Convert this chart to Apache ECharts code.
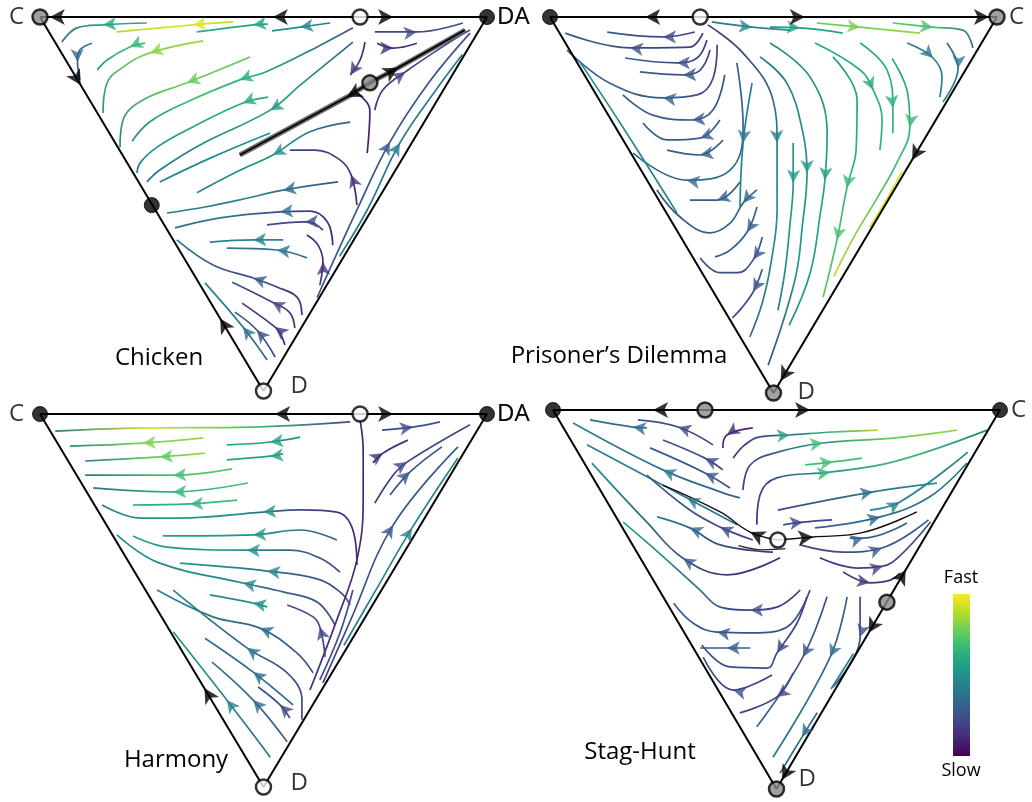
<!DOCTYPE html>
<html>
<head>
<meta charset="utf-8">
<script src="https://cdn.jsdelivr.net/npm/echarts@6/dist/echarts.min.js"></script>
<style>
  html, body { margin: 0; padding: 0; background: #ffffff; }
  #chart { width: 1032px; height: 802px; }
</style>
</head>
<body>
<div id="chart"></div>
<script>
// Coordinates inside each simplex: x runs 0..100 along the top edge (left vertex to right vertex),
// y runs 0 at the top edge to 100 at the bottom vertex.
// Streamline entry: [points, arrow index (or list, -1 = none), speeds along the line (0 slow .. 1 fast)]

const panelTitles = ['Chicken', 'Prisoner\u2019s Dilemma', 'Harmony', 'Stag-Hunt'];
const chickenVertices = ['C', 'DA', 'D'];
const pdVertices = ['DA', 'C', 'D'];
const harmonyVertices = ['C', 'DA', 'D'];
const stagVertices = ['DA', 'C', 'D'];

const chickenLines = [
  [[[23.9,1.6],[14.1,2.1],[8.3,2.9],[4.9,6.7]], 1, [0.62,0.6,0.35]],
  [[[43.2,1.3],[34.2,2.1],[17.2,4]], 1, [0.9,0.95,0.88]],
  [[[64.9,1.6],[58.2,2.7],[51.9,3.7]], 1, [0.4,0.5]],
  [[[51,1.9],[47.7,2.1],[35.1,4]], 1, [0.55,0.62]],
  [[[11.6,7],[8.7,9.2],[8.4,12],[8.9,16.8]], 2, [0.4,0.3]],
  [[[23.5,7],[20.1,8],[15,11.5],[12.8,14.2]], 1, [0.72,0.55]],
  [[[36.5,6.4],[24.6,9.6],[18.6,13.4],[15,17.6],[14.1,25.7]], 1, [0.85,0.8,0.5]],
  [[[47,10.7],[32.9,17.6],[23,22.2],[18.6,27.5],[17.9,34.8]], 1, [0.75,0.78,0.45]],
  [[[70,2.9],[62,8],[50.5,14.7],[44.7,16.8],[32.9,22.7],[24.6,28],[20.6,33.2]], 3, [0.25,0.55,0.7,0.45]],
  [[[51,21.4],[45.4,23],[34.2,29.4],[26.2,34.8],[22.4,39],[21.7,41.7]], 1, [0.62,0.6,0.4]],
  [[[70,6.7],[58.2,18.2],[51.5,24.9],[35.8,34.2],[26.8,40.9],[23.9,44.1]], 2, [0.3,0.55,0.5,0.35]],
  [[[51.5,31],[38.7,37.4],[26.8,44.1]], -1, [0.5,0.45]],
  [[[66.7,44.1],[54.4,46.3],[44.7,48.9],[36.9,50.8],[28.4,52.4]], 1, [0.25,0.45,0.4]],
  [[[69.4,28.1],[60.4,30.7],[52.1,36.9],[44.7,41],[35.1,47]], 2, [0.3,0.5,0.45]],
  [[[70.9,50.3],[69.6,42.2],[67.1,38.2],[61.5,35.6],[55.9,35.6]], 1, [0.12,0.2]],
  [[[65.5,61],[64.3,54.8],[60.4,51.9],[53.7,52.1],[40.3,53.7],[30.2,56.4]], 3, [0.12,0.2,0.4,0.35]],
  [[[62.6,71.7],[63.3,65.5],[62.2,61],[59.7,58.3]], 1, [0.15,0.12]],
  [[[63.3,57],[61.1,55.1],[59.3,54.8],[50.8,55.6]], 2, [0.15,0.25]],
  [[[54.4,59.6],[47.7,59.6],[38,60.2]], 1, [0.45,0.45]],
  [[[59.7,64.4],[53,62.3],[41.8,61.8]], 1, [0.35,0.4]],
  [[[58.6,79.7],[57.5,74.9],[53,72.2],[47.7,69.8],[38.7,66.3],[30.6,59.6]], 3, [0.12,0.25,0.4]],
  [[[57,83.2],[55.9,79.1],[51.9,76.2],[43,70.9]], 2, [0.15,0.25]],
  [[[54.8,87.7],[53.7,84.5],[52.6,82.9],[45.2,76.5]], 2, [0.1,0.18]],
  [[[52.6,90.9],[48.5,83.7],[43.6,78.9]], 1, [0.2,0.3]],
  [[[50.8,91.7],[45.4,82.9],[36.9,71.1]], 1, [0.3,0.45]],
  [[[62,75],[70.9,51.6],[78.3,33.4],[87,17.5],[96.2,4.3]], 2, [0.28,0.25]],
  [[[67,64],[73.2,51.6],[80.5,33.7],[89.5,18],[94.5,10]], 2, [0.42,0.4]],
  [[[74.9,4],[84.3,4],[94.6,1.6]], 1, [0.2,0.25]],
  [[[75.4,7],[79,8.3],[84.3,7]], 1, [0.12,0.15]],
  [[[72.7,6.7],[71.6,11.5],[69.4,15.5]], 2, [0.1,0.15]],
  [[[73.2,36.4],[73.8,25.1],[72,21.4],[69.4,20.1]], -1, [0.1,0.08]],
  [[[74.9,24.9],[76.7,19.5],[81.7,14.7],[91.7,6.7],[96.2,3.5]], 2, [0.15,0.25]]
];

const pdLines = [
  [[[32.4,4],[25.3,5.3],[12.8,4]], 1, [0.2,0.28]],
  [[[34.2,4.3],[31.3,8],[17.9,8.2],[3.4,4.3]], 2, [0.15,0.3]],
  [[[35.1,6.1],[32.9,10.9],[28.4,12.2],[16.8,10.9]], 2, [0.18,0.3]],
  [[[35.8,8.8],[33.6,14.1],[29.8,15.4],[20.1,14.6]], 2, [0.2,0.3]],
  [[[37.4,7.4],[36.5,16.2],[32.9,20.7],[25.3,21.5],[13.4,17.6],[3.8,8.8]], 3, [0.2,0.3,0.32]],
  [[[39.1,15.4],[36.5,24.7],[31.8,27.4],[23,26.1],[16.3,20.7]], 2, [0.25,0.3]],
  [[[38,27.4],[33.6,32.2],[26.2,32.7],[20.8,28.2]], 1, [0.3,0.3]],
  [[[38.7,32.7],[33.6,36.7],[26.2,35.4]], 1, [0.3,0.3]],
  [[[41.8,12.2],[43.2,29.3],[40.3,40.7],[30.6,43.4],[18.6,36.2]], 3, [0.3,0.35,0.35]],
  [[[45.2,17.6],[43.2,33.5],[42.5,50.5]], 1, [0.4,0.45]],
  [[[42.5,43.9],[37.4,48.7],[31.3,48.7]], 1, [0.3,0.3]],
  [[[46.3,46],[43.2,49.5],[40.3,54.8],[35.8,57.4],[29.1,53.2],[23.9,46]], 1, [0.35,0.3,0.25]],
  [[[35.3,2.1],[43.2,9.6],[49.9,22.1],[50.8,33.5],[50.8,51.3],[49.5,65],[47.5,76],[44.7,85.1]], 3, [0.15,0.4,0.5,0.35]],
  [[[36.2,1.3],[45.2,2.7],[53.7,3.5]], 1, [0.4,0.5]],
  [[[6.7,12],[15.7,28.2],[28.4,52.1]], -1, [0.5,0.45]],
  [[[46.3,50.5],[44.1,57.2],[40.3,62],[36.9,63.8]], 1, [0.3,0.3]],
  [[[47.5,58.5],[45.5,64.5],[42,68],[38,68],[33.6,64.1]], 1, [0.28,0.22]],
  [[[47.5,67],[45.5,73],[42.8,77.5],[40.8,80]], 1, [0.28,0.2]],
  [[[54.4,33.5],[54.4,44.1],[53.7,55],[52.6,67.3],[51,78]], 1, [0.5,0.55,0.4]],
  [[[47,10.6],[53,17.6],[56.6,30.9],[57.5,41.5],[56.5,55],[54.8,69.9],[48.8,92.6]], 3, [0.4,0.5,0.55,0.25]],
  [[[49.2,6.9],[58.2,16],[62,30.9],[61.5,43.4],[60.5,52],[58.2,68.1],[53.5,82]], 3, [0.45,0.55,0.6,0.5]],
  [[[63.3,10.6],[68.7,22.1],[68.5,35],[66.4,45.5],[64.2,59.3],[61.1,74.5]], [3,4], [0.55,0.65,0.75]],
  [[[78.8,41],[75.3,48.5],[71.5,56]], -1, [0.95,0.95]],
  [[[49.2,2.7],[55.9,2.9],[65.5,4.3]], 1, [0.5,0.6]],
  [[[59.7,1.6],[69.4,2.7],[82.8,4.3]], 1, [0.75,0.85]],
  [[[76.7,1.6],[85.7,2.7],[92.4,3.5],[94.6,8.2]], 1, [0.75,0.7,0.3]],
  [[[79.9,6.9],[85.7,10.9],[87.7,16],[87.2,21.3]], 1, [0.4,0.45]],
  [[[88.8,6.9],[91.3,13.6],[87.9,22.6]], 1, [0.35,0.45]],
  [[[69.4,6.9],[75.4,14.1],[76.7,24.2],[76.7,30.9]], 2, [0.6,0.65]],
  [[[59.3,6.9],[69.4,14.1],[72.3,19.4],[74.3,27.4],[73.8,35.4]], 2, [0.6,0.65]],
  [[[76.5,11],[80,20.2],[80.5,29.3],[77.5,39],[73,48.5],[68,58.5],[63.5,69]], 2, [0.6,0.7,0.9]]
];

const harmonyLines = [
  [[[69.4,2.1],[47,3.5],[20.8,3.8],[3.4,4.6]], -1, [0.2,0.7,0.95,0.4]],
  [[[36.5,6.4],[23,7.8],[6.7,8.6]], 1, [0.85,0.8,0.45]],
  [[[58.2,6.2],[51.5,7.5],[41.8,8.3]], 1, [0.5,0.6]],
  [[[36.9,10.5],[26.8,11.5],[10.1,12.6]], 1, [0.85,0.75,0.4]],
  [[[54.4,10.7],[51.5,11.3],[41.8,12.3]], 1, [0.55,0.6]],
  [[[43,14.7],[29.8,16.4],[10.1,16.4]], 1, [0.75,0.7,0.4]],
  [[[46.5,18.5],[29.8,20.9],[11.9,19.8]], 1, [0.7,0.65,0.35]],
  [[[44.1,23.1],[33.6,24.1],[20.8,24.4]], 1, [0.7,0.6]],
  [[[70.9,40.5],[70,31.1],[66.4,26.3],[58.2,25.7],[49.9,26.3],[31.3,27.9],[22.4,27.9],[13.9,24.4]], 4, [0.1,0.2,0.5,0.55,0.4]],
  [[[66.4,33.8],[58.2,31.1],[47.7,32.4],[27.5,32.7]], 2, [0.3,0.5,0.58]],
  [[[67.1,42.4],[62.6,38.6],[55.9,36.5],[46.3,36.5],[28.4,35.7],[20.8,32.7]], 3, [0.2,0.5,0.55]],
  [[[69.4,51.2],[67.1,47.7],[62,44.2],[50.8,42.1],[31.3,40]], 3, [0.2,0.55]],
  [[[66,56.6],[62,50.4],[54.4,47.7],[45.4,45.3],[26.2,39.7],[17.2,32.4]], 3, [0.2,0.45,0.5]],
  [[[50.8,51.7],[47.7,50.7],[38,48.5]], 1, [0.5,0.5]],
  [[[61.1,69.4],[57.5,64.1],[49.2,57.4],[38.7,54.4],[26.2,47.2]], 2, [0.25,0.45]],
  [[[58.6,82],[58.6,76.7],[55.3,69.4],[46.3,62.7],[29.8,47.2]], 3, [0.2,0.45]],
  [[[56.6,78],[47.7,69.2],[36.9,60.1]], 1, [0.3,0.4]],
  [[[55.3,87.9],[47.7,76.7],[38.5,66.5]], 1, [0.3,0.4]],
  [[[51.5,92],[41.8,76.7],[29.8,58.4]], 1, [0.35,0.55]],
  [[[55.9,81.5],[53.7,78],[48.8,73.2]], 1, [0.2,0.25]],
  [[[63.8,65.1],[62.6,57.1],[61.1,54.4],[55.3,51.2]], 1, [0.2,0.25]],
  [[[62.6,71.3],[67.1,58.7],[70,47.2]], -1, [0.25,0.25]],
  [[[60.4,74],[66.4,55.2],[70.9,39.1],[72.3,23.1],[72.3,9.7],[71.6,1.6]], -1, [0.15,0.1]],
  [[[76.5,4.3],[83.4,3.5],[89.5,2.1]], 1, [0.2,0.25]],
  [[[74.5,13.1],[76.7,10.5],[82.3,7]], 1, [0.12,0.15]],
  [[[74.9,23.9],[79,16.4],[82.1,12.9],[96.2,2.9]], 2, [0.15,0.25]],
  [[[78.3,21.7],[82.8,15.5],[89.9,8.8]], 1, [0.25,0.28]],
  [[[63.3,72.1],[69.4,55.5],[79,29.8],[93.5,8.8]], 2, [0.2,0.3]],
  [[[68,62],[74.9,47.7],[83.2,30.6],[93.5,11.8]], 2, [0.45,0.45]]
];

const stagLines = [
  [[[44.7,4.7],[38.9,6.6],[38,10]], 1, [0.12,0.12]],
  [[[35.8,9.2],[28,4.5],[19,2.6]], 1, [0.2,0.25]],
  [[[21,4.7],[17.9,4.5],[8.3,2.6]], 1, [0.35,0.35]],
  [[[41.8,23.2],[37.4,21.6],[24.6,15.8],[4.5,3.4]], 2, [0.3,0.45]],
  [[[38,15.8],[34,12.7],[24.6,7.9]], 1, [0.22,0.25]],
  [[[39.6,20.6],[34,16.6],[21.7,10]], 1, [0.25,0.3]],
  [[[41.2,30.3],[30,23.2],[7.6,9.2]], 1, [0.35,0.45]],
  [[[44.7,34.3],[37.4,30.9],[30.6,26.4],[21,17.2]], 1, [0.2,0.3]],
  [[[49.2,37.5],[37.4,35.6],[30.6,31.1],[23.3,28.2]], 2, [0.1,0.45]],
  [[[50.8,39],[38.9,43.5],[29.1,39.1],[21,29.6],[8.7,14]], 2, [0.1,0.5]],
  [[[55.3,47.5],[50.1,52],[44.1,52.8],[37.4,52],[32.9,47.5],[24,38],[15.7,29.6]], 2, [0.15,0.25,0.45,0.6]],
  [[[57.5,47.5],[52.3,57.3],[44.7,58.8],[36.7,58.6],[31.3,56.2],[27,51]], 3, [0.2,0.3]],
  [[[44.1,62.8],[38.9,62.8],[32.9,62.8]], 1, [0.3,0.3]],
  [[[56.8,49.3],[54.6,56.2],[50.1,64.1],[47.9,68.1],[39.6,67.8],[33.3,62]], 2, [0.2,0.25]],
  [[[49,69.9],[40.3,73.9],[33.6,65.2]], 1, [0.2,0.25]],
  [[[53.7,69.4],[50.1,75.7],[41.8,79.9]], 1, [0.2,0.2]],
  [[[61.3,49.3],[55.9,65.2],[45.6,83.6]], 1, [0.25,0.3]],
  [[[65.8,49.3],[62,65.2],[49.2,91.6]], 1, [0.3,0.4]],
  [[[68.7,49.3],[68.7,59.9],[62.6,73.1]], 1, [0.2,0.3]],
  [[[59.1,79.9],[55.7,86.3],[50.8,95.8]], 1, [0.35,0.35]],
  [[[67.2,64.3],[62.2,73.6]], -1, [0.45,0.45]],
  [[[40.3,12.7],[42.9,9.2],[46.3,7.1],[53,6.6],[62.6,5.8],[72.7,5.3]], 3, [0.12,0.3,0.65,0.9]],
  [[[42.5,21.1],[44.1,14.5],[49.7,11.3],[60.4,8.7],[76.1,7.4],[90.4,5.3]], 3, [0.15,0.45,0.75,0.85]],
  [[[56.4,14.5],[62.6,13.7],[69.1,12.7]], 1, [0.7,0.7]],
  [[[45.6,30.3],[46.3,22.4],[50.1,17.9],[62,16.4],[76.1,13.7],[97.1,5.3]], 3, [0.12,0.5,0.7,0.45]],
  [[[50.3,26.4],[71.6,21.6],[85.9,19.3]], 1, [0.2,0.5]],
  [[[70.9,26.4],[77.6,24.3],[92.8,11.1]], 1, [0.45,0.45]],
  [[[51.5,30.3],[55.9,29.6],[62.4,29]], 1, [0.2,0.2]],
  [[[58.6,31.1],[73.2,28.2],[84.3,22.9],[92.6,14]], 1, [0.3,0.4]],
  [[[66.4,33.8],[69.4,33.8],[79.2,29.8]], 1, [0.3,0.3]],
  [[[55.3,35.6],[64.9,37.5],[73.6,36.4],[84,29]], 2, [0.2,0.3]],
  [[[59.7,39],[68,41.7],[73.8,41.2],[77.6,38.5],[84.5,29.5]], 2, [0.15,0.25]],
  [[[64.9,42.7],[70.9,45.6],[75.4,44.9],[77.6,43]], 1, [0.15,0.15]]
];

// Black invariant curves through interior rest points: [points, arrow index]
const chickenSeparatrix = [
  [[[73.8,17.6],[68.7,21.4],[44.7,36.9]], 1],
  [[[73.8,17.6],[80.1,13.6],[95.1,3.5]], 1]
];
const stagSeparatrix = [
  [[[50.3,34.3],[44.1,32.2],[37.4,26.9],[24.6,19.8]], 1],
  [[[50.3,34.3],[58.2,33.5],[68.7,32.5],[81.4,26.9]], 1]
];
const stagLowerCurve = [[41.5,35.8],[47,36.9],[52,36.6]];

// Edge flow arrows: [x, y, heading x, heading y]
const chickenEdgeArrows = [[2.2,0,0,0],[52.1,0,0,0],[79,0,100,0],[9.1,18.2,25,50.3],[40.3,80.6,25,50.3]];
const pdEdgeArrows = [[21.3,0,0,0],[57,0,100,0],[98.2,0,100,0],[81,38,50,100],[51.6,96.8,50,100]];
const harmonyEdgeArrows = [[52.6,0,0,0],[79,0,100,0],[36.8,73.5,0,0]];
const stagEdgeArrows = [[22.4,0,0,0],[57.5,0,100,0],[78.9,42.2,100,0],[70.6,58.8,50,100],[51.2,97.6,50,100]];

// Rest points: [x, y, type]
const chickenPoints = [[0,0,'saddle'],[71.6,0,'source'],[100,0,'sink'],[25,50.3,'sink'],[50,100,'source'],[73.8,17.6,'saddle']];
const pdPoints = [[0,0,'sink'],[33.6,0,'source'],[100,0,'saddle'],[50,100,'saddle']];
const harmonyPoints = [[0,0,'sink'],[71.6,0,'source'],[100,0,'sink'],[50,100,'source']];
const stagPoints = [[0,0,'sink'],[34,0,'saddle'],[100,0,'sink'],[50.3,34.3,'source'],[74.7,50.7,'saddle'],[50,100,'saddle']];

const vertexCoords = [[0,0],[100,0],[50,100]];

// ---------- drawing ----------
const FONT = '"Open Sans", "Noto Sans", sans-serif';
const VIRIDIS = ['#440154','#482475','#414487','#355f8d','#2a788e','#21918c','#22a884','#44bf70','#7ad151','#bddf26','#fde725'];

function hexToRgb(h) { return [parseInt(h.slice(1,3),16), parseInt(h.slice(3,5),16), parseInt(h.slice(5,7),16)]; }
function viridis(t) {
  t = Math.max(0, Math.min(1, t));
  const p = t * 10, i = Math.min(9, Math.floor(p)), f = p - i;
  const a = hexToRgb(VIRIDIS[i]), b = hexToRgb(VIRIDIS[i + 1]);
  const c = a.map((v, k) => Math.round(v + (b[k] - v) * f));
  return 'rgb(' + c.join(',') + ')';
}
function speedAt(speeds, f) {
  if (speeds.length === 1) return speeds[0];
  const p = f * (speeds.length - 1), i = Math.min(speeds.length - 2, Math.floor(p));
  return speeds[i] + (speeds[i + 1] - speeds[i]) * (p - i);
}
function strokeFor(pts, speeds) {
  if (speeds.every(s => s === speeds[0])) return viridis(speeds[0]);
  const xs = pts.map(p => p[0]), ys = pts.map(p => p[1]);
  const minx = Math.min(...xs), maxx = Math.max(...xs), miny = Math.min(...ys), maxy = Math.max(...ys);
  const fx = v => maxx > minx ? (v - minx) / (maxx - minx) : 0.5;
  const fy = v => maxy > miny ? (v - miny) / (maxy - miny) : 0.5;
  const a = pts[0], b = pts[pts.length - 1];
  return new echarts.graphic.LinearGradient(fx(a[0]), fy(a[1]), fx(b[0]), fy(b[1]),
    speeds.map((s, j) => ({ offset: j / (speeds.length - 1), color: viridis(s) })));
}

// The shared "DA" corner between neighbouring simplices carries one label:
// the right-hand panel places its copy exactly over the left-hand panel's one.
const panels = [
  { lines: chickenLines, edge: chickenEdgeArrows, points: chickenPoints, vertices: chickenVertices, sep: chickenSeparatrix, sepStyle: 'double',
    box: { left: 40, top: 17, width: 447, height: 374 }, titleAt: [159, 358],
    labelCfg: [{ position: 'left', distance: 16 }, { position: 'right', distance: 10 }, { position: 'right', distance: 27, offset: [0, -5] }] },
  { lines: pdLines, edge: pdEdgeArrows, points: pdPoints, vertices: pdVertices, sep: [], sepStyle: 'thin',
    box: { left: 550, top: 17, width: 447, height: 376 }, titleAt: [619, 356],
    labelCfg: [{ position: 'right', distance: 10, offset: [-63, 0] }, { position: 'right', distance: 12 }, { position: 'right', distance: 24, offset: [0, -1] }] },
  { lines: harmonyLines, edge: harmonyEdgeArrows, points: harmonyPoints, vertices: harmonyVertices, sep: [], sepStyle: 'thin',
    box: { left: 40, top: 414, width: 447, height: 373 }, titleAt: [176, 760],
    labelCfg: [{ position: 'left', distance: 16 }, { position: 'right', distance: 10 }, { position: 'right', distance: 27, offset: [0, -4] }] },
  { lines: stagLines, edge: stagEdgeArrows, points: stagPoints, vertices: stagVertices, sep: stagSeparatrix, sepStyle: 'thin',
    box: { left: 553, top: 410, width: 447, height: 379 }, titleAt: [640, 752],
    labelCfg: [{ position: 'right', distance: 10, offset: [-66, 4] }, { position: 'right', distance: 11 }, { position: 'right', distance: 22, offset: [0, -10] }] }
];

const grids = [], xAxes = [], yAxes = [], series = [], graphics = [];

panels.forEach((p, i) => {
  grids.push(Object.assign({ containLabel: false }, p.box));
  xAxes.push({ type: 'value', gridIndex: i, min: 0, max: 100, show: false });
  yAxes.push({ type: 'value', gridIndex: i, min: 0, max: 100, inverse: true, show: false });
  const sx = p.box.width / 100, sy = p.box.height / 100;
  const base = { xAxisIndex: i, yAxisIndex: i, silent: true, animation: false, clip: false };
  const rotFor = (from, to) => {
    const dx = (to[0] - from[0]) * sx, dy = (to[1] - from[1]) * sy;
    return Math.atan2(-dy, dx) * 180 / Math.PI - 90;
  };

  // streamlines
  const arrowData = [];
  p.lines.forEach(([pts, arrows, speeds]) => {
    series.push(Object.assign({}, base, {
      type: 'line', data: pts, smooth: 0.4, symbol: 'none', z: 2,
      lineStyle: { width: 1.7, color: strokeFor(pts, speeds) }
    }));
    [].concat(arrows).forEach(k => {
      if (k < 0) return;
      const prev = pts[Math.max(0, k - 1)], next = pts[Math.min(pts.length - 1, k + 1)];
      arrowData.push({ value: pts[k], symbolRotate: rotFor(prev, next),
        itemStyle: { color: viridis(speedAt(speeds, k / (pts.length - 1))) } });
    });
  });
  series.push(Object.assign({}, base, { type: 'scatter', data: arrowData, symbol: 'arrow', symbolSize: [10, 13], z: 4 }));

  // invariant curves
  const sepArrows = [];
  p.sep.forEach(([pts, k]) => {
    if (p.sepStyle === 'double') {
      series.push(Object.assign({}, base, { type: 'line', data: pts, symbol: 'none', z: 3, lineStyle: { width: 5, color: '#6e6e6e' } }));
      series.push(Object.assign({}, base, { type: 'line', data: pts, symbol: 'none', z: 3, lineStyle: { width: 1.8, color: '#000' } }));
    } else {
      series.push(Object.assign({}, base, { type: 'line', data: pts, smooth: 0.4, symbol: 'none', z: 3, lineStyle: { width: 1.4, color: '#111' } }));
    }
    sepArrows.push({ value: pts[k], symbolRotate: rotFor(pts[k - 1], pts[k + 1]) });
  });
  if (i === 3) {
    series.push(Object.assign({}, base, { type: 'line', data: stagLowerCurve, smooth: 0.4, symbol: 'none', z: 3, lineStyle: { width: 1.2, color: '#222' } }));
  }

  // simplex outline
  series.push(Object.assign({}, base, {
    type: 'line', data: [[0,0],[100,0],[50,100],[0,0]], symbol: 'none', z: 3,
    lineStyle: { width: 2, color: '#000' }
  }));

  // edge arrows
  const edgeData = p.edge.map(([x, y, tx, ty]) => ({ value: [x, y], symbolRotate: rotFor([x, y], [tx, ty]) }));
  series.push(Object.assign({}, base, {
    type: 'scatter', data: edgeData.concat(sepArrows), symbol: 'arrow', symbolSize: [12, 15], z: 5,
    itemStyle: { color: '#000' }
  }));

  // rest points
  const styles = {
    sink: { color: '#000', borderColor: '#000', borderWidth: 1 },
    source: { color: '#fff', borderColor: '#000', borderWidth: 2.5 },
    saddle: { color: '#8a8a8a', borderColor: '#000', borderWidth: 2.5 }
  };
  series.push(Object.assign({}, base, {
    type: 'scatter', z: 6, symbol: 'circle', symbolSize: 15,
    data: p.points.map(([x, y, t]) => ({ value: [x, y], itemStyle: styles[t] }))
  }));

  // vertex names
  series.push(Object.assign({}, base, {
    type: 'scatter', z: 7, symbolSize: 0,
    data: vertexCoords.map((c, j) => ({
      value: c,
      label: Object.assign({ show: true, formatter: p.vertices[j], color: '#000', fontSize: 24, fontFamily: FONT }, p.labelCfg[j])
    }))
  }));

  graphics.push({
    type: 'text', x: p.titleAt[0], y: p.titleAt[1], silent: true,
    style: { text: panelTitles[i], fill: '#000', fontSize: 24, fontFamily: FONT, align: 'center', verticalAlign: 'middle' }
  });
});

// speed colour bar
const barStops = [];
for (let j = 0; j <= 10; j++) barStops.push({ offset: j / 10, color: viridis(1 - j / 10) });
graphics.push({ type: 'rect', silent: true, shape: { x: 953, y: 594, width: 17, height: 162 },
  style: { fill: new echarts.graphic.LinearGradient(0, 0, 0, 1, barStops) } });
graphics.push({ type: 'text', x: 961, y: 578, silent: true,
  style: { text: 'Fast', fill: '#000', fontSize: 18, fontFamily: FONT, align: 'center', verticalAlign: 'middle' } });
graphics.push({ type: 'text', x: 961, y: 771, silent: true,
  style: { text: 'Slow', fill: '#000', fontSize: 18, fontFamily: FONT, align: 'center', verticalAlign: 'middle' } });

const chart = echarts.init(document.getElementById('chart'), null, { renderer: 'canvas' });
chart.setOption({
  animation: false,
  backgroundColor: '#ffffff',
  textStyle: { fontFamily: FONT },
  grid: grids,
  xAxis: xAxes,
  yAxis: yAxes,
  series: series,
  graphic: graphics
});
</script>
</body>
</html>
